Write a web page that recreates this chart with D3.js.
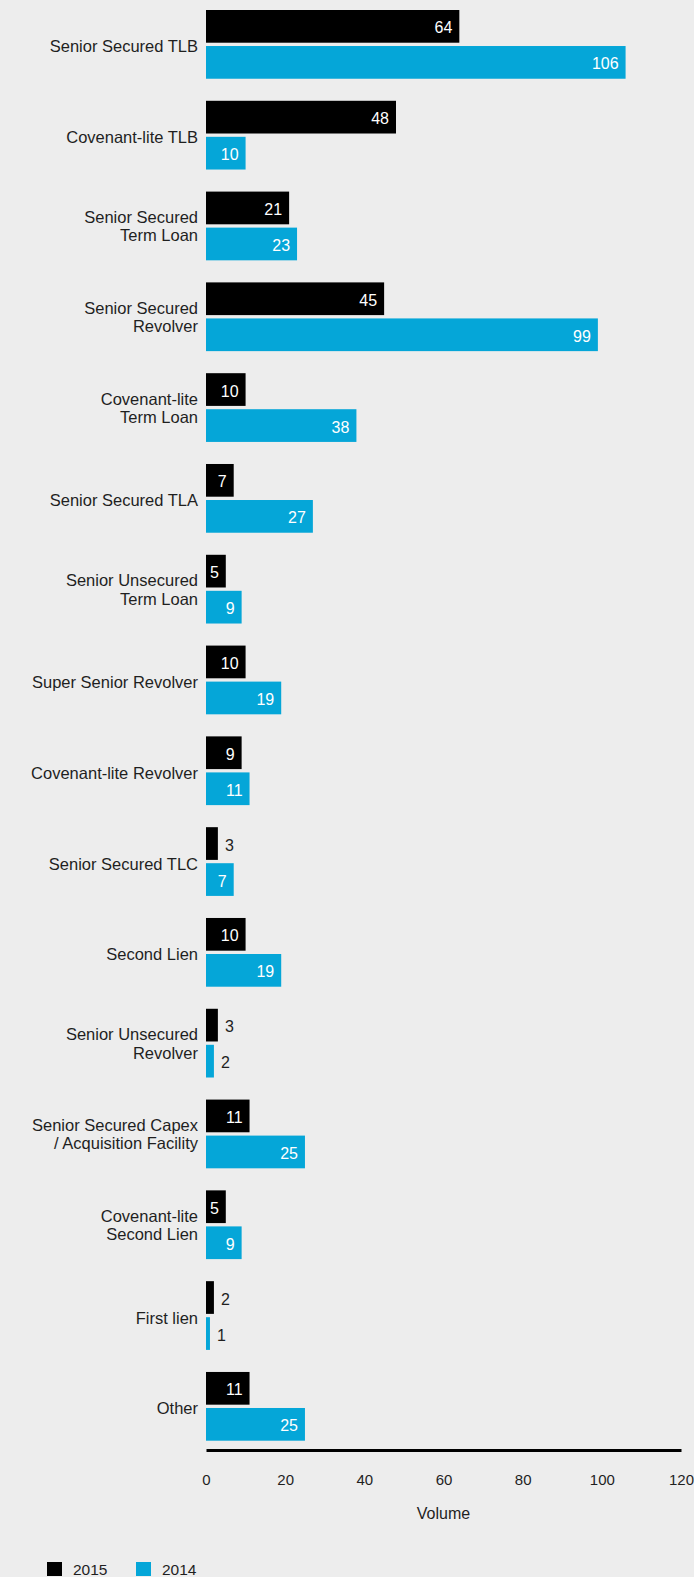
<!DOCTYPE html>
<html>
<head>
<meta charset="utf-8">
<script src="https://cdn.jsdelivr.net/npm/d3@7"></script>
<style>
  html, body { margin: 0; padding: 0; background: #ededed; }
  svg { display: block; font-family: "Liberation Sans", Arial, sans-serif; }
</style>
</head>
<body>
<script>
// chart data
var categories = [
    "Senior Secured TLB",
    "Covenant-lite TLB",
    "Senior Secured|Term Loan",
    "Senior Secured|Revolver",
    "Covenant-lite|Term Loan",
    "Senior Secured TLA",
    "Senior Unsecured|Term Loan",
    "Super Senior Revolver",
    "Covenant-lite Revolver",
    "Senior Secured TLC",
    "Second Lien",
    "Senior Unsecured|Revolver",
    "Senior Secured Capex|/ Acquisition Facility",
    "Covenant-lite|Second Lien",
    "First lien",
    "Other"
];
var series = ["2015", "2014"];
var values2015 = [64, 48, 21, 45, 10, 7, 5, 10, 9, 3, 10, 3, 11, 5, 2, 11];
var values2014 = [106, 10, 23, 99, 38, 27, 9, 19, 11, 7, 19, 2, 25, 9, 1, 25];
var xTicks = [0, 20, 40, 60, 80, 100, 120];
var colors = {"2015": "#000000", "2014": "#05a6d8"};

var width = 694, height = 1577;

var svg = d3.select("body").append("svg")
    .attr("width", width)
    .attr("height", height);

svg.append("rect")
    .attr("width", width)
    .attr("height", height)
    .attr("fill", "#ededed");

// scales
var x = d3.scaleLinear()
    .domain([0, 120])
    .range([206, 681]);

var y = d3.scaleBand()
    .domain(categories)
    .range([10, 1440.7])
    .paddingInner(0.243)
    .paddingOuter(0);

var ySub = d3.scaleBand()
    .domain(series)
    .range([0, y.bandwidth()])
    .paddingInner(0.092);

// flatten rows
var rows = categories.map(function(c, i) {
    return {cat: c, values: [
        {key: "2015", value: values2015[i]},
        {key: "2014", value: values2014[i]}
    ]};
});

var group = svg.append("g")
    .attr("class", "groups")
    .selectAll("g")
    .data(rows)
    .enter().append("g")
    .attr("transform", function(d) { return "translate(0," + y(d.cat) + ")"; });

// category labels (right aligned, multi-line)
group.append("text")
    .attr("text-anchor", "end")
    .attr("fill", "#1f1f1f")
    .style("font-size", "16.5px")
    .each(function(d) {
        var lines = d.cat.split("|");
        var mid = y.bandwidth() / 2;
        var first = mid + 8 - (lines.length - 1) * 11;
        var t = d3.select(this);
        lines.forEach(function(l, k) {
            t.append("tspan")
                .attr("x", 198)
                .attr("y", first + k * 18.5)
                .text(l);
        });
    });

var bar = group.selectAll("g.bar")
    .data(function(d) { return d.values; })
    .enter().append("g")
    .attr("class", "bar");

bar.append("rect")
    .attr("x", x(0))
    .attr("y", function(d) { return ySub(d.key); })
    .attr("width", function(d) { return x(d.value) - x(0); })
    .attr("height", ySub.bandwidth())
    .attr("fill", function(d) { return colors[d.key]; });

// value labels: inside (white) when the bar is wide enough, outside otherwise
bar.append("text")
    .attr("x", function(d) { return d.value >= 5 ? x(d.value) - 7 : x(d.value) + 7; })
    .attr("y", function(d) { return ySub(d.key) + ySub.bandwidth() / 2 + 7; })
    .attr("text-anchor", function(d) { return d.value >= 5 ? "end" : "start"; })
    .attr("fill", function(d) { return d.value >= 5 ? "#ffffff" : "#1f1f1f"; })
    .style("font-size", "16px")
    .text(function(d) { return d.value; });

// x axis
var xAxis = svg.append("g")
    .attr("transform", "translate(0,1450)")
    .call(d3.axisBottom(x).tickValues(xTicks).tickSize(0).tickSizeOuter(0).tickPadding(24));

xAxis.select(".domain")
    .attr("stroke", "#000")
    .attr("stroke-width", 3);

xAxis.selectAll(".tick text")
    .attr("fill", "#1f1f1f")
    .style("font-size", "15px")
    .style("font-family", "'Liberation Sans', Arial, sans-serif");

svg.append("text")
    .attr("x", (x(0) + x(120)) / 2)
    .attr("y", 1519)
    .attr("text-anchor", "middle")
    .attr("fill", "#1f1f1f")
    .style("font-size", "16px")
    .text("Volume");

// legend
var legend = svg.append("g")
    .attr("class", "legend")
    .selectAll("g")
    .data(series)
    .enter().append("g")
    .attr("transform", function(d, i) { return "translate(" + (47 + i * 89) + ",1562)"; });

legend.append("rect")
    .attr("width", 15)
    .attr("height", 14)
    .attr("fill", function(d) { return colors[d]; });

legend.append("text")
    .attr("x", 26)
    .attr("y", 13)
    .attr("fill", "#1f1f1f")
    .style("font-size", "15.5px")
    .text(function(d) { return d; });
</script>
</body>
</html>
